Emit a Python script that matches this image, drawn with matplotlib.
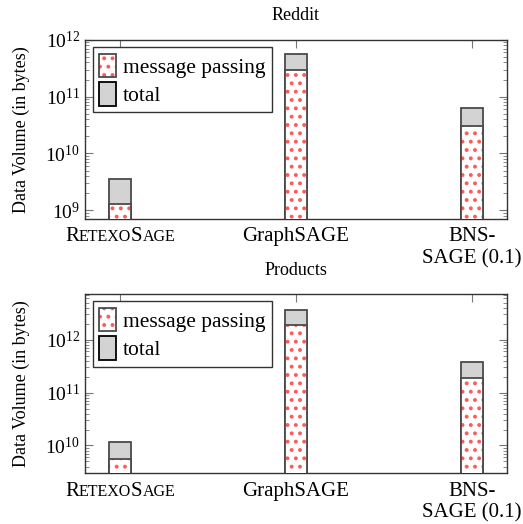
import matplotlib
matplotlib.use('Agg')
import matplotlib.pyplot as plt
import numpy as np
from matplotlib.patches import Patch
from matplotlib.legend_handler import HandlerTuple
from matplotlib.offsetbox import TextArea, HPacker, AnnotationBbox

plt.rcParams['font.family'] = 'Liberation Serif'
plt.rcParams['mathtext.fontset'] = 'stix'
plt.rcParams['hatch.linewidth'] = 1.6

methods = ['RetexoSage', 'GraphSAGE', 'BNS-\nSAGE (0.1)']
datasets = ['Reddit', 'Products']
msg_passing = {
    'Reddit': [1.28e9, 2.9e11, 3.0e10],
    'Products': [5.6e9, 1.9e12, 1.9e11],
}
total = {
    'Reddit': [3.5e9, 5.7e11, 6.2e10],
    'Products': [1.16e10, 3.7e12, 3.8e11],
}
ylims = {'Reddit': (7e8, 1e12), 'Products': (3e9, 7.3e12)}

fig = plt.figure(figsize=(5.23, 5.24), dpi=100)
boxes = [[0.1625, 0.582, 0.8065, 0.342], [0.1625, 0.097, 0.8065, 0.342]]

index = np.arange(len(methods))
w = 0.125
edge = '#4a4a4a'
dots = '#ff5a5a'

for name, box in zip(datasets, boxes):
    ax = fig.add_axes(box)
    ax.set_yscale('log')
    ax.bar(index, total[name], w, color='#d3d3d3', edgecolor=edge, linewidth=1.3, zorder=2)
    ax.bar(index, msg_passing[name], w, color='white', edgecolor=dots, hatch='..',
           linewidth=0, zorder=3)
    ax.bar(index, msg_passing[name], w, fill=False, edgecolor=edge, linewidth=1.3, zorder=4)
    ax.set_xlim(-0.2, 2.2)
    ax.set_ylim(*ylims[name])
    ax.set_title(name, fontsize=13, pad=14)
    ax.set_ylabel('Data Volume (in bytes)', fontsize=13, labelpad=11)
    ax.set_xticks(index)
    ax.set_xticklabels(['', methods[1], methods[2]], fontsize=15)
    ax.tick_params(axis='both', which='both', direction='in', top=True, right=True,
                   color='#777777')
    ax.tick_params(axis='y', which='major', length=6, labelsize=14)
    ax.tick_params(axis='y', which='minor', length=3)
    ax.tick_params(axis='x', length=6, pad=6)
    for s in ax.spines.values():
        s.set_linewidth(1.0)
        s.set_color('#333333')

    # small caps label
    big = dict(fontsize=15, family='Liberation Serif')
    small = dict(fontsize=11.5, family='Liberation Serif')
    parts = [TextArea('R', textprops=big), TextArea('ETEXO', textprops=small),
             TextArea('S', textprops=big), TextArea('AGE', textprops=small)]
    pack = HPacker(children=parts, align='baseline', pad=0, sep=0)
    ab = AnnotationBbox(pack, (0, 0), xycoords=ax.get_xaxis_transform(),
                        xybox=(0, -6), boxcoords='offset points',
                        box_alignment=(0.5, 1), frameon=False, pad=0)
    ax.add_artist(ab)

    h1 = Patch(facecolor='white', edgecolor=dots, hatch='..', linewidth=0)
    h2 = Patch(fill=False, edgecolor=edge, linewidth=1.3)
    h3 = Patch(facecolor='#d3d3d3', edgecolor='black', linewidth=1.3)
    leg = ax.legend([(h1, h2), h3], ['message passing', 'total'],
                    handler_map={tuple: HandlerTuple(ndivide=1)},
                    loc='upper left', fontsize=15.5, fancybox=False, edgecolor='#333333',
                    framealpha=1, handlelength=0.8, handleheight=1.3,
                    handletextpad=0.3, borderpad=0.3, labelspacing=0.2,
                    borderaxespad=0.35)
    leg.get_frame().set_linewidth(1.0)

plt.savefig('out.png', dpi=100)
